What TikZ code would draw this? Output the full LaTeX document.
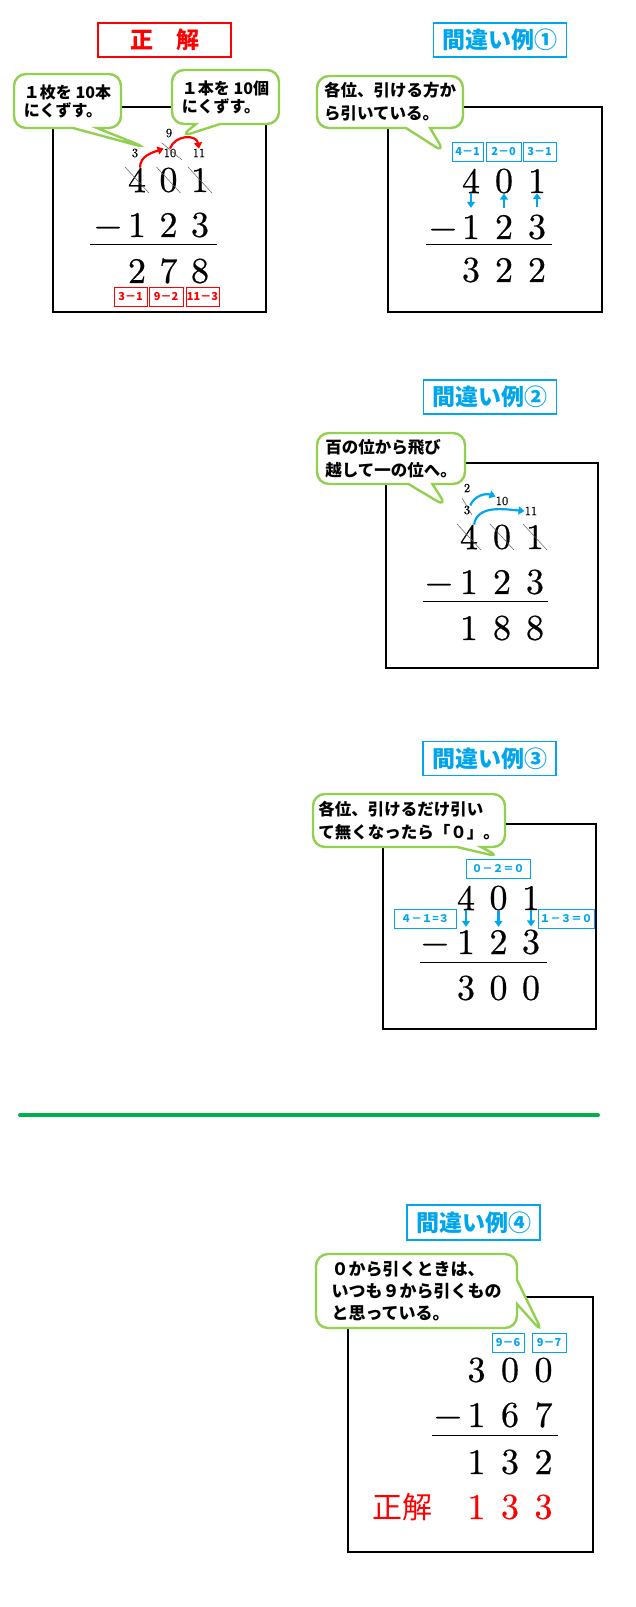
\documentclass[tikz,border=0pt]{standalone}
\usepackage{fontspec}
\newfontfamily\jp{Noto Sans CJK JP}
\newfontface\numface{lmroman10-regular.otf}[FakeBold=0.6]
\usetikzlibrary{arrows.meta,shapes.callouts}
\definecolor{skyblue}{RGB}{0,166,237}
\definecolor{bubblegreen}{RGB}{146,208,80}
\definecolor{rulegreen}{RGB}{0,176,80}

\begin{document}
\begin{tikzpicture}[
    x=1pt, y=-1pt,
    frame/.style={draw=black, line width=1.3pt},
    heading/.style={rectangle, draw=skyblue, line width=1.6pt, text=skyblue, font=\jp\bfseries\fontsize{23}{23}\selectfont, minimum width=133pt, minimum height=34pt, inner sep=0pt},
    answer/.style={heading, draw=red, text=red},
    bubble/.style={rectangle callout, draw=bubblegreen, line width=2.4pt, fill=white, rounded corners=12pt, align=left, inner sep=0pt, callout pointer width=24pt, font=\jp\bfseries\fontsize{16.5}{23}\selectfont},
    digit/.style={font=\numface\fontsize{36}{36}\selectfont, inner sep=0pt},
    sign/.style={digit, text height=23.2pt, text depth=0pt},
    note/.style={font=\numface\fontsize{12.5}{12.5}\selectfont, inner sep=0pt},
    tag/.style={rectangle, draw=skyblue, line width=0.9pt, text=skyblue, font=\jp\bfseries\fontsize{11}{11}\selectfont, minimum height=19pt, inner sep=1pt},
    widetag/.style={tag, font=\jp\bfseries\fontsize{10.5}{10.5}\selectfont},
    redtag/.style={tag, draw=red, text=red},
    slash/.style={draw=black!65, line width=0.5pt},
    bar/.style={draw=black, line width=1pt},
    bluearrow/.style={-{Triangle[length=6pt,width=8pt]}, draw=skyblue, line width=2.2pt},
    redarrow/.style={-{Triangle[length=6pt,width=8pt]}, draw=red, line width=2.2pt}
]
\useasboundingbox (0,0) rectangle (635,1607);

% correct answer
\node[answer] (ansTitle) at (164.5,40) {正　解};
\draw[frame] (53,107) rectangle (266,312);
\coordinate (tipA) at (147,148);
\coordinate (tipB) at (180,137);
\node[bubble, font=\jp\bfseries\fontsize{16}{18}\selectfont, minimum width=107pt, minimum height=54pt, callout absolute pointer=(tipA)] (hintA) at (67.5,101) {１枚を 10本\\にくずす。};
\node[bubble, font=\jp\bfseries\fontsize{16}{18}\selectfont, minimum width=107pt, minimum height=54pt, callout absolute pointer=(tipB)] (hintB) at (225.5,97) {１本を 10個\\にくずす。};
\foreach \t [count=\i] in {4,0,1} \node[digit] (top0\i) at ({105.5+31.5*\i},180) {\t};
\node[sign] (sub0) at (108,225) {−};
\foreach \t [count=\i] in {1,2,3} \node[digit] (mid0\i) at ({105.5+31.5*\i},225) {\t};
\draw[bar] (90,244) -- (217,244);
\foreach \t [count=\i] in {2,7,8} \node[digit] (bot0\i) at ({105.5+31.5*\i},271) {\t};
\node[redtag, minimum width=33pt] (chk01) at (130.5,296.5) {3－1};
\node[redtag, minimum width=34pt] (chk02) at (166,296.5) {9－2};
\node[redtag, minimum width=33pt] (chk03) at (202.5,296.5) {11－3};
\node[note] (n0three) at (135,153) {3};
\node[note] (n0ten) at (170,153) {10};
\node[note] (n0eleven) at (199,153) {11};
\node[note] (n0nine) at (169,133) {9};
\foreach \d in {top01,top02,top03}
    \draw[slash] ([shift={(-12,-13)}]\d.center) -- ([shift={(12,13)}]\d.center);
\draw[slash] ([shift={(-8,-10)}]n0ten.center) -- ([shift={(12,7)}]n0ten.center);
\draw[redarrow] ([xshift=3pt]top01.north) to[out=90, in=200] (n0ten.north west);
\draw[redarrow] (n0ten.north) to[out=70, in=100, looseness=1.3] (n0eleven.north);

% mistake 1
\node[heading] (title1) at (500,40) {間違い例①};
\draw[frame] (388,107) rectangle (602,312);
\coordinate (tipC) at (445,153);
\node[bubble, minimum width=146pt, minimum height=52pt, callout absolute pointer=(tipC)] (hint1) at (390,102) {各位、引ける方か\\ら引いている。};
\node[tag, minimum width=31pt] (tag11) at (467.5,151.5) {4－1};
\node[tag, minimum width=35pt] (tag12) at (503.5,151.5) {2－0};
\node[tag, minimum width=33pt] (tag13) at (539.5,151.5) {3－1};
\foreach \t [count=\i] in {4,0,1} \node[digit] (top1\i) at ({438+33*\i},181) {\t};
\node[sign] (sub1) at (443,227) {−};
\foreach \t [count=\i] in {1,2,3} \node[digit] (mid1\i) at ({438+33*\i},227) {\t};
\draw[bar] (426,244) -- (552,244);
\foreach \t [count=\i] in {3,2,2} \node[digit] (bot1\i) at ({438+33*\i},270) {\t};
\draw[bluearrow, shorten >=7pt] (top11.south) -- (mid11.north);
\draw[bluearrow, shorten <=7pt] (mid12.north) -- (top12.south);
\draw[bluearrow, shorten <=7pt] (mid13.north) -- (top13.south);

% mistake 2
\node[heading] (title2) at (490,397) {間違い例②};
\draw[frame] (386,463) rectangle (598,668);
\coordinate (tipD) at (447,507);
\node[bubble, minimum width=148pt, minimum height=51pt, callout absolute pointer=(tipD)] (hint2) at (391,458.5) {百の位から飛び\\越して一の位へ。};
\foreach \t [count=\i] in {4,0,1} \node[digit] (top2\i) at ({436+33*\i},537) {\t};
\node[sign] (sub2) at (439,582) {−};
\foreach \t [count=\i] in {1,2,3} \node[digit] (mid2\i) at ({436+33*\i},582) {\t};
\draw[bar] (423,601) -- (548,601);
\foreach \t [count=\i] in {1,8,8} \node[digit] (bot2\i) at ({436+33*\i},628) {\t};
\node[note] (n2two) at (467,488) {2};
\node[note] (n2three) at (467,510) {3};
\node[note] (n2ten) at (502,501) {10};
\node[note] (n2eleven) at (531,511) {11};
\foreach \d in {top21,top22,top23}
    \draw[slash] ([shift={(-12,-13)}]\d.center) -- ([shift={(12,13)}]\d.center);
\draw[slash] ([shift={(-5,-12)}]n2three.center) -- ([shift={(5,5)}]n2three.center);
\draw[bluearrow] (n2three.north east) to[out=70, in=160] (n2ten.north west);
\draw[bluearrow] ([xshift=5pt]top21.north) to[out=80, in=175] (n2eleven.west);

% mistake 3
\node[heading] (title3) at (489.5,758.5) {間違い例③};
\draw[frame] (383,824) rectangle (596,1029);
\coordinate (tipE) at (500,857);
\node[bubble, minimum width=192pt, minimum height=53pt, callout absolute pointer=(tipE)] (hint3) at (409,820.5) {各位、引けるだけ引い\\て無くなったら「０」。};
\node[widetag, minimum width=64pt] (tag31) at (498,869) {０－２＝０};
\node[widetag, minimum width=62pt] (tag32) at (425,918.5) {４－１=３};
\node[widetag, minimum width=56pt] (tag33) at (566,918.5) {１－３＝０};
\foreach \t [count=\i] in {4,0,1} \node[digit] (top3\i) at ({433.5+32.5*\i},898) {\t};
\node[sign] (sub3) at (435,942) {−};
\foreach \t [count=\i] in {1,2,3} \node[digit] (mid3\i) at ({433.5+32.5*\i},942) {\t};
\draw[bar] (420,962) -- (547,962);
\foreach \t [count=\i] in {3,0,0} \node[digit] (bot3\i) at ({433.5+32.5*\i},988) {\t};
\foreach \i in {1,2,3}
    \draw[bluearrow, shorten >=3pt] (top3\i.south) -- (mid3\i.north);

\draw[rulegreen, line width=4pt, line cap=round] (20,1115) -- (598,1115);

% mistake 4
\node[heading, minimum height=35pt] (title4) at (473.5,1222.5) {間違い例④};
\draw[frame] (348,1297) rectangle (593,1552);
\coordinate (tipF) at (543,1333);
\node[bubble, font=\jp\bfseries\fontsize{17}{22}\selectfont, minimum width=201pt, minimum height=74pt, callout absolute pointer=(tipF)] (hint4) at (416.5,1291) {０から引くときは、\\いつも９から引くもの\\と思っている。};
\node[tag, minimum width=32pt] (tag41) at (508,1342.5) {9－6};
\node[tag, minimum width=34pt] (tag42) at (549,1342.5) {9－7};
\foreach \t [count=\i] in {3,0,0} \node[digit] (top4\i) at ({443+33.5*\i},1370) {\t};
\node[sign] (sub4) at (448,1415) {−};
\foreach \t [count=\i] in {1,6,7} \node[digit] (mid4\i) at ({443+33.5*\i},1415) {\t};
\draw[bar] (432,1435) -- (558,1435);
\foreach \t [count=\i] in {1,3,2} \node[digit] (bot4\i) at ({443+33.5*\i},1462) {\t};
\node[font=\jp\fontsize{30}{30}\selectfont, text=red, inner sep=0pt] (fix4) at (402.5,1507) {正解};
\foreach \t [count=\i] in {1,3,3} \node[digit, text=red] (fix4\i) at ({443+33.5*\i},1507) {\t};
\end{tikzpicture}
\end{document}
